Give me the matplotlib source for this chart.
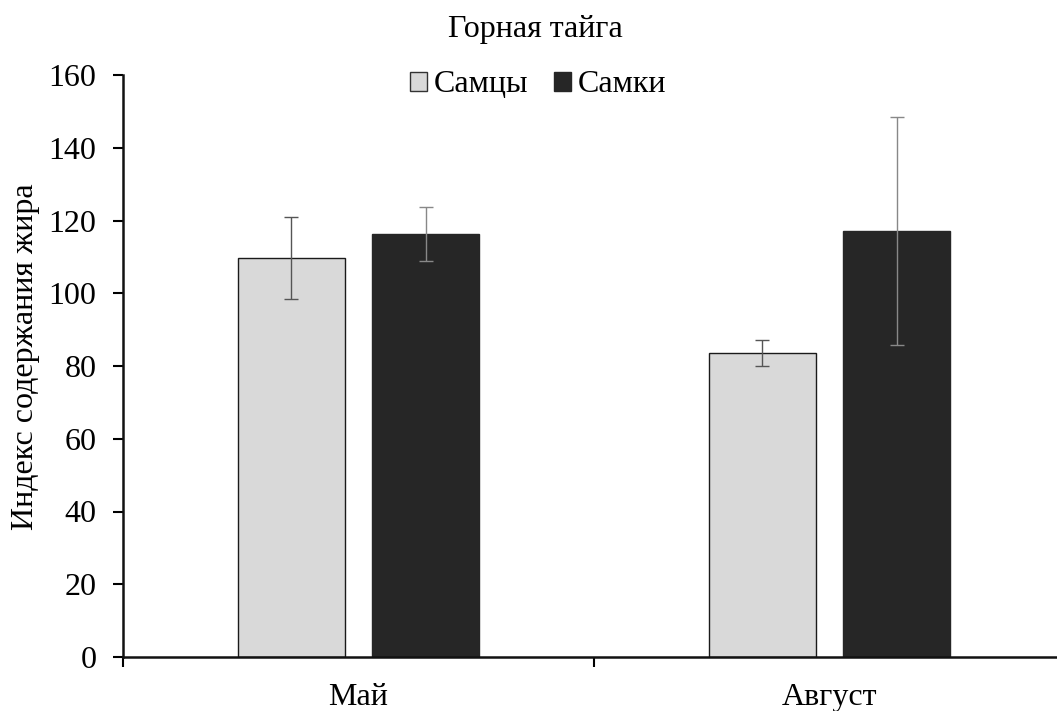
import matplotlib
matplotlib.use("Agg")
import matplotlib.pyplot as plt
import numpy as np
from matplotlib.patches import Patch

categories = ["Май", "Август"]
series_names = ["Самцы", "Самки"]
males = [109.7, 83.6]
females = [116.3, 117.2]
males_err = [11.2, 3.6]
females_err = [7.5, 31.3]
yticks = [0, 20, 40, 60, 80, 100, 120, 140, 160]

plt.rcParams['font.family'] = ['Liberation Serif', 'DejaVu Serif']
FS = 23

W, H = 1057, 711
fig = plt.figure(figsize=(W/100, H/100), dpi=100)
left, right, top, bottom = 123, 1065, 75, 657
ax = fig.add_axes([left/W, 1-bottom/H, (right-left)/W, (bottom-top)/H])

x = np.arange(len(categories))
bw = 0.227
off = 0.143
ax.bar(x - off, males, bw, color='#d9d9d9', edgecolor='#1a1a1a', linewidth=1.0, zorder=2)
ax.bar(x + off, females, bw, color='#262626', edgecolor='#262626', linewidth=1.0, zorder=2)
ax.errorbar(x - off, males, yerr=males_err, fmt='none', ecolor='#555555',
            elinewidth=1.0, capsize=5, capthick=1.0, zorder=3)
ax.errorbar(x + off, females, yerr=females_err, fmt='none', ecolor='#888888',
            elinewidth=1.0, capsize=5, capthick=1.0, zorder=3)

ax.set_xlim(-0.5, 1.5)
ax.set_ylim(0, 160)
ax.set_yticks(yticks)
ax.tick_params(axis='y', direction='out', length=7, width=1.5, labelsize=FS, pad=12)
ax.set_xticks(x)
ax.set_xticklabels(categories, fontsize=FS)
ax.tick_params(axis='x', length=0, pad=19)
ax.set_xticks([-0.5, 0.5, 1.5], minor=True)
ax.tick_params(axis='x', which='minor', direction='out', length=7, width=1.5)
for s in ['top', 'right']:
    ax.spines[s].set_visible(False)
ax.spines['left'].set_linewidth(1.8)
ax.spines['bottom'].set_linewidth(1.8)
ax.spines['left'].set_color('#111111')
ax.spines['bottom'].set_color('#111111')

ax.set_ylabel("Индекс содержания жира", fontsize=FS)
ax.yaxis.set_label_coords((40 - left)/(right-left), (bottom-357)/(bottom-top))

fig.text(535/W, 1-30/H, "Горная тайга", ha='center', va='center', fontsize=FS)

handles = [Patch(facecolor='#d9d9d9', edgecolor='#333333', label=series_names[0]),
           Patch(facecolor='#262626', edgecolor='#262626', label=series_names[1])]
fig.legend(handles=handles, loc='center', bbox_to_anchor=(538/W, 1-85/H), ncol=2,
           frameon=False, fontsize=FS, handlelength=0.55, handleheight=0.55,
           handletextpad=0.2, columnspacing=0.8)

fig.savefig("out.png", dpi=100)
